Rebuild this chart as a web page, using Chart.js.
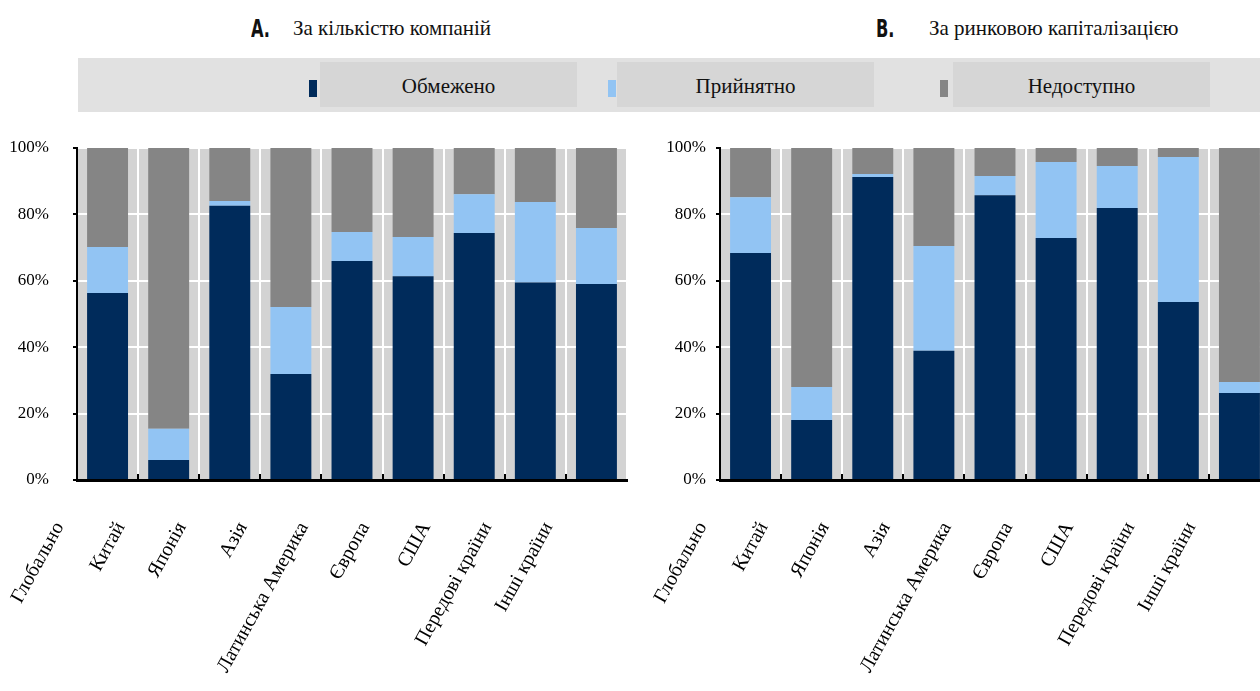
<!DOCTYPE html>
<html>
<head>
<meta charset="utf-8">
<script src="https://cdn.jsdelivr.net/npm/chart.js@4.4.1/dist/chart.umd.min.js"></script>
<style>
body { margin: 0; width: 1260px; height: 691px; overflow: hidden; position: relative; background: #fff; font-family: "Liberation Serif", "Times New Roman", Tinos, "DejaVu Serif", serif; }
.letter { position: absolute; top: 15px; font-family: "Liberation Sans Narrow", "DejaVu Sans Condensed", sans-serif; font-weight: bold; font-size: 24px; color: #111; transform: scaleX(0.75); transform-origin: left; }
.title { position: absolute; top: 16px; font-size: 21px; color: #111; }
#legend { position: absolute; left: 78px; top: 58px; width: 1182px; height: 54px; background: #e1e1e1; }
.mark { position: absolute; top: 22px; width: 8px; height: 17px; }
.lbox { position: absolute; top: 4px; width: 257px; height: 45px; background: #d6d6d6; font-size: 21px; color: #111; text-align: center; line-height: 48px; }
canvas { position: absolute; top: 130px; }
</style>
</head>
<body>
<div class="letter" style="left:251px">A.</div>
<div class="title" style="left:293px">За кількістю компаній</div>
<div class="letter" style="left:876px">B.</div>
<div class="title" style="left:929px">За ринковою капіталізацією</div>
<div id="legend"></div>
<canvas id="chartA" width="640" height="561" style="left:0"></canvas>
<canvas id="chartB" width="650" height="561" style="left:640px"></canvas>
<script>
//Категорії та ряди (частка, %)
var regions = ["Глобально", "Китай", "Японія", "Азія", "Латинська Америка", "Європа", "США", "Передові країни", "Інші країни"];
var seriesNames = ["Обмежено", "Прийнятно", "Недоступно"];
var seriesColors = ["#002b5b", "#92c4f3", "#858585"];
var yTickLabels = ["0%", "20%", "40%", "60%", "80%", "100%"];

//A. За кількістю компаній
var countLimited = [56.3, 6.0, 82.6, 31.9, 66.0, 61.4, 74.4, 59.5, 59.0];
var countAcceptable = [13.9, 9.4, 1.4, 20.2, 8.7, 11.8, 11.7, 24.2, 16.9];
var countUnavailable = [29.8, 84.6, 16.0, 47.9, 25.3, 26.8, 13.9, 16.3, 24.1];

//B. За ринковою капіталізацією
var capLimited = [68.4, 18.1, 91.3, 38.9, 85.8, 72.9, 81.9, 53.6, 26.2];
var capAcceptable = [16.8, 9.9, 0.9, 31.6, 5.8, 22.9, 12.7, 43.7, 3.3];
var capUnavailable = [14.8, 72.0, 7.8, 29.5, 8.4, 4.2, 5.4, 2.7, 70.5];

var serifFont = '"Liberation Serif", "Times New Roman", Tinos, "DejaVu Serif", serif';

//Легенда
var legendPos = [[231, 242], [530, 539], [862, 875]];
var legend = document.getElementById('legend');
seriesNames.forEach(function(name, i) {
    var m = document.createElement('div');
    m.className = 'mark';
    m.style.left = legendPos[i][0] + 'px';
    m.style.background = seriesColors[i];
    legend.appendChild(m);
    var b = document.createElement('div');
    b.className = 'lbox';
    b.style.left = legendPos[i][1] + 'px';
    b.textContent = name;
    legend.appendChild(b);
});

//Сірий фон області графіка та внутрішні риски осі X
var plotBackground = {
    id: 'plotBackground',
    beforeDraw: function(chart) {
        var a = chart.chartArea, c = chart.ctx;
        c.save();
        c.fillStyle = '#d3d3d3';
        c.fillRect(a.left, a.top, a.right - a.left, a.bottom - a.top);
        c.restore();
    },
    afterDraw: function(chart) {
        var a = chart.chartArea, c = chart.ctx;
        var step = (a.right - a.left) / chart.data.labels.length;
        c.save();
        c.strokeStyle = '#000';
        c.lineWidth = 2;
        for (var i = 1; i < chart.data.labels.length; i++) {
            var x = Math.round(a.left + i * step);
            c.beginPath();
            c.moveTo(x, a.bottom);
            c.lineTo(x, a.bottom - 6);
            c.stroke();
        }
        c.restore();
    }
};

function makeChart(id, values, yWidth, yPad) {
    var ctx = document.getElementById(id).getContext('2d');
    return new Chart(ctx, {
        type: 'bar',
        data: {
            labels: regions,
            datasets: values.map(function(v, i) {
                return {
                    label: seriesNames[i],
                    data: v,
                    backgroundColor: seriesColors[i],
                    borderWidth: 0,
                    barPercentage: 0.67,
                    categoryPercentage: 1
                };
            })
        },
        options: {
            responsive: false,
            animation: false,
            layout: { padding: { top: 18, right: 13 } },
            plugins: { legend: { display: false }, tooltip: { enabled: false } },
            scales: {
                x: {
                    stacked: true,
                    grid: { color: '#ffffff', lineWidth: 2, offset: true, drawTicks: false },
                    border: { color: '#000', width: 3 },
                    ticks: {
                        color: '#000',
                        font: { family: serifFont, size: 20 },
                        minRotation: 61,
                        maxRotation: 61,
                        padding: 38,
                        labelOffset: -48
                    },
                    afterFit: function(s) { s.height = 211; s.paddingLeft = 0; s.paddingRight = 0; }
                },
                y: {
                    stacked: true,
                    min: 0,
                    max: 100,
                    ticks: {
                        stepSize: 20,
                        color: '#000',
                        font: { family: serifFont, size: 17 },
                        padding: yPad,
                        callback: function(v, i) { return yTickLabels[i]; }
                    },
                    grid: { color: '#ffffff', lineWidth: 2, tickColor: '#000', tickLength: 4 },
                    border: { color: '#000', width: 2 },
                    afterFit: function(s) { s.width = yWidth; s.paddingTop = 0; s.paddingBottom = 0; }
                }
            }
        },
        plugins: [plotBackground]
    });
}

//Підгонка області графіка під розміри оригіналу
function fitArea(chart, top, right) {
    for (var k = 0; k < 4; k++) {
        var p = chart.options.layout.padding;
        p.top = Math.max(0, p.top + (top - chart.chartArea.top));
        p.right = Math.max(0, p.right + (chart.chartArea.right - right));
        chart.update();
    }
}

var chartA = makeChart('chartA', [countLimited, countAcceptable, countUnavailable], 77, 24);
var chartB = makeChart('chartB', [capLimited, capAcceptable, capUnavailable], 80, 10);
fitArea(chartA, 18, 627);
fitArea(chartB, 18, 630);
</script>
</body>
</html>
